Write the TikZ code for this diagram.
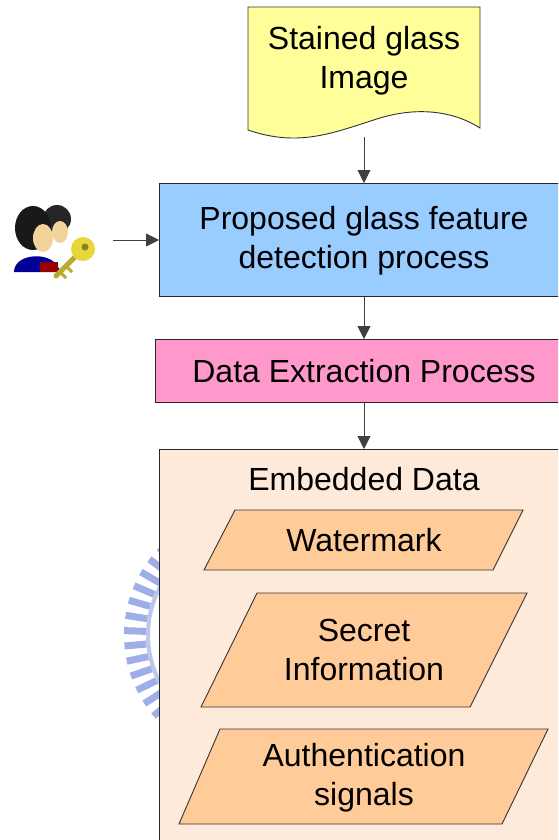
\documentclass[tikz,border=0pt]{standalone}
\usepackage{fontspec}
\setmainfont{Liberation Sans}
\usetikzlibrary{arrows.meta}

\definecolor{imgyellow}{HTML}{FFFF99}
\definecolor{procblue}{HTML}{99CCFF}
\definecolor{extpink}{HTML}{FF99CC}
\definecolor{datapeach}{HTML}{FDEADA}
\definecolor{itemorange}{HTML}{FFCC99}
\definecolor{logoblue}{HTML}{A0AEE8}
\definecolor{skin}{HTML}{F2D39A}
\definecolor{keyyellow}{HTML}{E6D73A}

\tikzset{
    txt/.style={font=\fontsize{32}{39}\selectfont, align=center},
    flow/.style={draw=black!75, line width=0.9pt, -{Triangle[width=13pt,length=13pt]}},
    item/.style={draw=black!80, line width=0.9pt, fill=itemorange},
}

\begin{document}
\begin{tikzpicture}[x=1pt,y=-1pt]
    \useasboundingbox (0,0) rectangle (558,840);
    \clip (0,0) rectangle (558,840);

    % faint logo ring behind the data box
    \foreach \a in {98,105,...,264}
        \draw[logoblue, line width=7pt] (250,635) ++(\a:104) -- ++(\a:22);
    \draw[logoblue!70, line width=4pt] (250,635) ++(98:102) arc[start angle=98, end angle=264, radius=102];

    % stained glass image (document shape)
    \draw[draw=black!80, line width=0.9pt, fill=imgyellow]
        (248,7) -- (480,7) -- (480,128)
        .. controls (455,112) and (420,106) .. (380,118)
        .. controls (335,132) and (300,148) .. (248,130) -- cycle;
    \node[txt] (img) at (364,61) {Stained glass\\Image};
    \coordinate (imgbot) at (364,137);

    % processing boxes
    \node[draw=black!85, line width=0.9pt, fill=procblue, minimum width=402pt, minimum height=113pt, anchor=north west] (detect) at (159,183) {};
    \node[txt] at (364,241) {Proposed glass feature\\detection process};
    \node[draw=black!85, line width=0.9pt, fill=extpink, minimum width=410pt, minimum height=63pt, anchor=north west] (extract) at (155,339) {};
    \node[txt] at (364,371) {Data Extraction Process};

    % embedded data container
    \node[draw=black!85, line width=0.9pt, fill=datapeach, minimum width=410pt, minimum height=400pt, anchor=north west] (embed) at (159,449) {};
    \node[txt] at (364,479) {Embedded Data};

    \draw[item] (235,510) -- (523,510) -- (493,570) -- (204,570) -- cycle;
    \node[txt] (wm) at (364,540) {Watermark};
    \draw[item] (257,593) -- (527,593) -- (470,707) -- (201,707) -- cycle;
    \node[txt] (secret) at (364,650) {Secret\\Information};
    \draw[item] (220,729) -- (548,729) -- (502,824) -- (179,824) -- cycle;
    \node[txt] (auth) at (364,778) {Authentication\\signals};

    % user with key
    \fill[blue!60!black] (14,272) .. controls (14,252) and (56,250) .. (60,272) -- cycle;
    \fill[red!60!black] (40,262) rectangle (58,272);
    \fill[black!85] (57,219) ellipse (14pt and 14pt);
    \fill[skin] (60,232) ellipse (8pt and 11pt);
    \fill[black!90] (33,228) ellipse (18pt and 22pt);
    \fill[skin] (43,238) ellipse (10pt and 14pt);
    \draw[keyyellow!80!black, line width=5pt, line cap=round] (82,250) -- (56,276);
    \draw[keyyellow!80!black, line width=3pt] (60,272) -- (66,278) (66,266) -- (72,272);
    \fill[keyyellow] (83,249) circle (12pt);
    \fill[keyyellow!60!black] (85,247) circle (3.5pt);
    \coordinate (user) at (113,240);

    % connectors
    \draw[flow] (imgbot) -- (detect.north -| imgbot);
    \draw[flow] (user) -- (user -| detect.west);
    \draw[flow] (detect.south -| imgbot) -- (extract.north -| imgbot);
    \draw[flow] (extract.south -| imgbot) -- (embed.north -| imgbot);
\end{tikzpicture}
\end{document}
